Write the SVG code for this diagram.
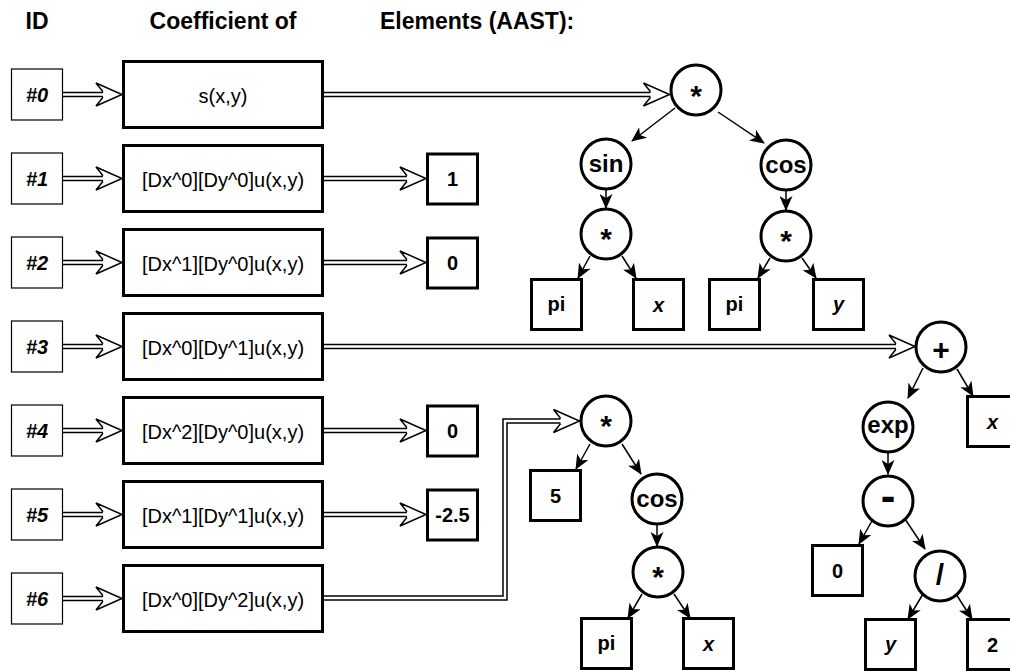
<svg xmlns="http://www.w3.org/2000/svg" width="1010" height="671" viewBox="0 0 1010 671">
<defs>
<style>
text { font-family: "Liberation Sans", Arial, sans-serif; fill:#000; }
.hdr { font-size:23px; font-weight:bold; }
.id rect { fill:#fff; stroke:#000; stroke-width:1.2; }
.id text { font-size:20px; font-weight:bold; font-style:italic; text-anchor:middle; }
.box rect { fill:#fff; stroke:#000; stroke-width:3; }
.box text { font-size:20px; text-anchor:middle; }
.val rect { fill:#fff; stroke:#000; stroke-width:3; }
.val text { font-size:20px; font-weight:bold; text-anchor:middle; }
.op circle { fill:#fff; stroke:#000; stroke-width:3; }
.op text { font-weight:bold; text-anchor:middle; }
.w { font-size:24px; }
.sym { font-size:30px; }
.hy { font-size:44px; }
.it { font-style:italic; }
.dlo { fill:none; stroke:#000; stroke-width:5.5; stroke-linejoin:miter; }
.dli { fill:none; stroke:#fff; stroke-width:2.5; stroke-linejoin:miter; }
.te { stroke:#000; stroke-width:1.5; marker-end:url(#ca); }
</style>
<marker id="ca" viewBox="0 0 15 13" refX="14" refY="6.5" markerWidth="15" markerHeight="13" markerUnits="userSpaceOnUse" orient="auto"><path d="M0,0 L15,6.5 L0,13 L4,6.5 Z" fill="#000"/></marker>
<path id="ah" d="M-19,-2.75 L-26,-11.5 L0,0 L-26,11.5 L-19,2.75" fill="#fff" stroke="#000" stroke-width="1.5" stroke-linejoin="miter"/>
</defs>
<rect width="1010" height="671" fill="#fff"/>

<g id="headers">
<text class="hdr" x="37" y="29" text-anchor="middle">ID</text>
<text class="hdr" x="223" y="29" text-anchor="middle">Coefficient of</text>
<text class="hdr" x="380" y="29">Elements (AAST):</text>
</g>

<g id="connectors">
<path class="dlo" d="M63,94.5H104"/><path class="dli" d="M63,94.5H104"/><use href="#ah" x="122" y="94.5"/>
<path class="dlo" d="M63,178.5H104"/><path class="dli" d="M63,178.5H104"/><use href="#ah" x="122" y="178.5"/>
<path class="dlo" d="M63,262.5H104"/><path class="dli" d="M63,262.5H104"/><use href="#ah" x="122" y="262.5"/>
<path class="dlo" d="M63,346.5H104"/><path class="dli" d="M63,346.5H104"/><use href="#ah" x="122" y="346.5"/>
<path class="dlo" d="M63,430.5H104"/><path class="dli" d="M63,430.5H104"/><use href="#ah" x="122" y="430.5"/>
<path class="dlo" d="M63,514.5H104"/><path class="dli" d="M63,514.5H104"/><use href="#ah" x="122" y="514.5"/>
<path class="dlo" d="M63,598.5H104"/><path class="dli" d="M63,598.5H104"/><use href="#ah" x="122" y="598.5"/>
<path class="dlo" d="M324,94.5H651"/><path class="dli" d="M324,94.5H652"/><use href="#ah" x="669.5" y="94.5"/>
<path class="dlo" d="M324,178.5H408"/><path class="dli" d="M324,178.5H409"/><use href="#ah" x="426" y="178.5"/>
<path class="dlo" d="M324,262.5H408"/><path class="dli" d="M324,262.5H409"/><use href="#ah" x="426" y="262.5"/>
<path class="dlo" d="M324,346.5H897"/><path class="dli" d="M324,346.5H898"/><use href="#ah" x="915" y="346.5"/>
<path class="dlo" d="M324,430.5H408"/><path class="dli" d="M324,430.5H409"/><use href="#ah" x="426" y="430.5"/>
<path class="dlo" d="M324,514.5H408"/><path class="dli" d="M324,514.5H409"/><use href="#ah" x="426" y="514.5"/>
<path class="dlo" d="M324,598H505V421H561"/><path class="dli" d="M324,598H505V421H562"/><use href="#ah" x="579.5" y="421"/>
<line class="te" x1="675" y1="108" x2="632" y2="141"/>
<line class="te" x1="718" y1="112" x2="764" y2="143"/>
<line class="te" x1="606" y1="190" x2="606" y2="208"/>
<line class="te" x1="786" y1="191" x2="786" y2="210"/>
<line class="te" x1="590" y1="256" x2="578" y2="278"/>
<line class="te" x1="622" y1="256" x2="636" y2="278"/>
<line class="te" x1="770" y1="258" x2="758" y2="278"/>
<line class="te" x1="802" y1="258" x2="816" y2="278"/>
<line class="te" x1="590" y1="444" x2="576" y2="469"/>
<line class="te" x1="622" y1="444" x2="641" y2="474"/>
<line class="te" x1="657" y1="525" x2="657" y2="546"/>
<line class="te" x1="642" y1="594" x2="628" y2="618"/>
<line class="te" x1="674" y1="594" x2="690" y2="618"/>
<line class="te" x1="923" y1="368" x2="908" y2="398"/>
<line class="te" x1="957" y1="369" x2="973" y2="396"/>
<line class="te" x1="888" y1="453" x2="888" y2="474"/>
<line class="te" x1="873" y1="519" x2="859" y2="544"/>
<line class="te" x1="905" y1="519" x2="925" y2="549"/>
<line class="te" x1="923" y1="594" x2="908" y2="619"/>
<line class="te" x1="956" y1="594" x2="972" y2="619"/>
</g>

<g id="id0" class="id"><rect x="11.5" y="69" width="51" height="51"/><text x="37" y="102">#0</text></g>
<g id="id1" class="id"><rect x="11.5" y="153" width="51" height="51"/><text x="37" y="186">#1</text></g>
<g id="id2" class="id"><rect x="11.5" y="237" width="51" height="51"/><text x="37" y="270">#2</text></g>
<g id="id3" class="id"><rect x="11.5" y="321" width="51" height="51"/><text x="37" y="354">#3</text></g>
<g id="id4" class="id"><rect x="11.5" y="405" width="51" height="51"/><text x="37" y="438">#4</text></g>
<g id="id5" class="id"><rect x="11.5" y="489" width="51" height="51"/><text x="37" y="522">#5</text></g>
<g id="id6" class="id"><rect x="11.5" y="573" width="51" height="51"/><text x="37" y="606">#6</text></g>

<g id="coef0" class="box"><rect x="123.5" y="61.5" width="199" height="66"/><text x="223" y="102.5">s(x,y)</text></g>
<g id="coef1" class="box"><rect x="123.5" y="145.5" width="199" height="66"/><text x="223" y="186.5">[Dx^0][Dy^0]u(x,y)</text></g>
<g id="coef2" class="box"><rect x="123.5" y="229.5" width="199" height="66"/><text x="223" y="270.5">[Dx^1][Dy^0]u(x,y)</text></g>
<g id="coef3" class="box"><rect x="123.5" y="313.5" width="199" height="66"/><text x="223" y="354.5">[Dx^0][Dy^1]u(x,y)</text></g>
<g id="coef4" class="box"><rect x="123.5" y="397.5" width="199" height="66"/><text x="223" y="438.5">[Dx^2][Dy^0]u(x,y)</text></g>
<g id="coef5" class="box"><rect x="123.5" y="481.5" width="199" height="66"/><text x="223" y="522.5">[Dx^1][Dy^1]u(x,y)</text></g>
<g id="coef6" class="box"><rect x="123.5" y="565.5" width="199" height="66"/><text x="223" y="606.5">[Dx^0][Dy^2]u(x,y)</text></g>

<g id="res1" class="val"><rect x="427.5" y="154" width="50" height="50"/><text x="452.5" y="186">1</text></g>
<g id="res2" class="val"><rect x="427.5" y="238" width="50" height="50"/><text x="452.5" y="270">0</text></g>
<g id="res4" class="val"><rect x="427.5" y="406" width="50" height="50"/><text x="452.5" y="438">0</text></g>
<g id="res5" class="val"><rect x="427.5" y="490" width="50" height="50"/><text x="452.5" y="522">-2.5</text></g>

<g id="t0_mul" class="op"><circle cx="696" cy="90" r="25"/><text class="sym" x="696" y="106">*</text></g>
<g id="t0_sin" class="op"><circle cx="606" cy="164" r="25"/><text class="w" x="606" y="172">sin</text></g>
<g id="t0_cos" class="op"><circle cx="786" cy="165" r="25"/><text class="w" x="786" y="173">cos</text></g>
<g id="t0_mul2" class="op"><circle cx="606" cy="234" r="25"/><text class="sym" x="606" y="249">*</text></g>
<g id="t0_mul3" class="op"><circle cx="786" cy="236" r="25"/><text class="sym" x="786" y="251">*</text></g>
<g id="t0_pi1" class="val"><rect x="531.5" y="279.5" width="50" height="50"/><text x="556.5" y="311">pi</text></g>
<g id="t0_x" class="val"><rect x="633.5" y="279.5" width="50" height="50"/><text class="it" x="658.5" y="312">x</text></g>
<g id="t0_pi2" class="val"><rect x="709.5" y="279.5" width="50" height="50"/><text x="734.5" y="311">pi</text></g>
<g id="t0_y" class="val"><rect x="813.5" y="279.5" width="50" height="50"/><text class="it" x="838.5" y="311">y</text></g>

<g id="t6_mul" class="op"><circle cx="606" cy="421" r="25"/><text class="sym" x="606" y="436">*</text></g>
<g id="t6_5" class="val"><rect x="530.5" y="470.5" width="50" height="50"/><text x="555.5" y="503">5</text></g>
<g id="t6_cos" class="op"><circle cx="657" cy="499" r="25"/><text class="w" x="657" y="507">cos</text></g>
<g id="t6_mul2" class="op"><circle cx="658" cy="572" r="25"/><text class="sym" x="658" y="587">*</text></g>
<g id="t6_pi" class="val"><rect x="581.5" y="618.5" width="50" height="50"/><text x="606.5" y="650">pi</text></g>
<g id="t6_x" class="val"><rect x="683.5" y="618.5" width="50" height="50"/><text class="it" x="708.5" y="651">x</text></g>

<g id="t3_plus" class="op"><circle cx="941" cy="347" r="25"/><text class="sym" x="941" y="360">+</text></g>
<g id="t3_x" class="val"><rect x="967.5" y="396.5" width="50" height="50"/><text class="it" x="992.5" y="429">x</text></g>
<g id="t3_exp" class="op"><circle cx="888" cy="427" r="25"/><text class="w" x="888" y="433">exp</text></g>
<g id="t3_minus" class="op"><circle cx="888" cy="501" r="25"/><text class="hy" x="888" y="511">-</text></g>
<g id="t3_0" class="val"><rect x="812.5" y="545.5" width="50" height="50"/><text x="837.5" y="578">0</text></g>
<g id="t3_div" class="op"><circle cx="940" cy="576" r="25"/><text class="sym" x="940" y="585">/</text></g>
<g id="t3_y" class="val"><rect x="865.5" y="619.5" width="50" height="50"/><text class="it" x="890.5" y="651">y</text></g>
<g id="t3_2" class="val"><rect x="967.5" y="619.5" width="50" height="50"/><text x="992.5" y="652">2</text></g>
</svg>
